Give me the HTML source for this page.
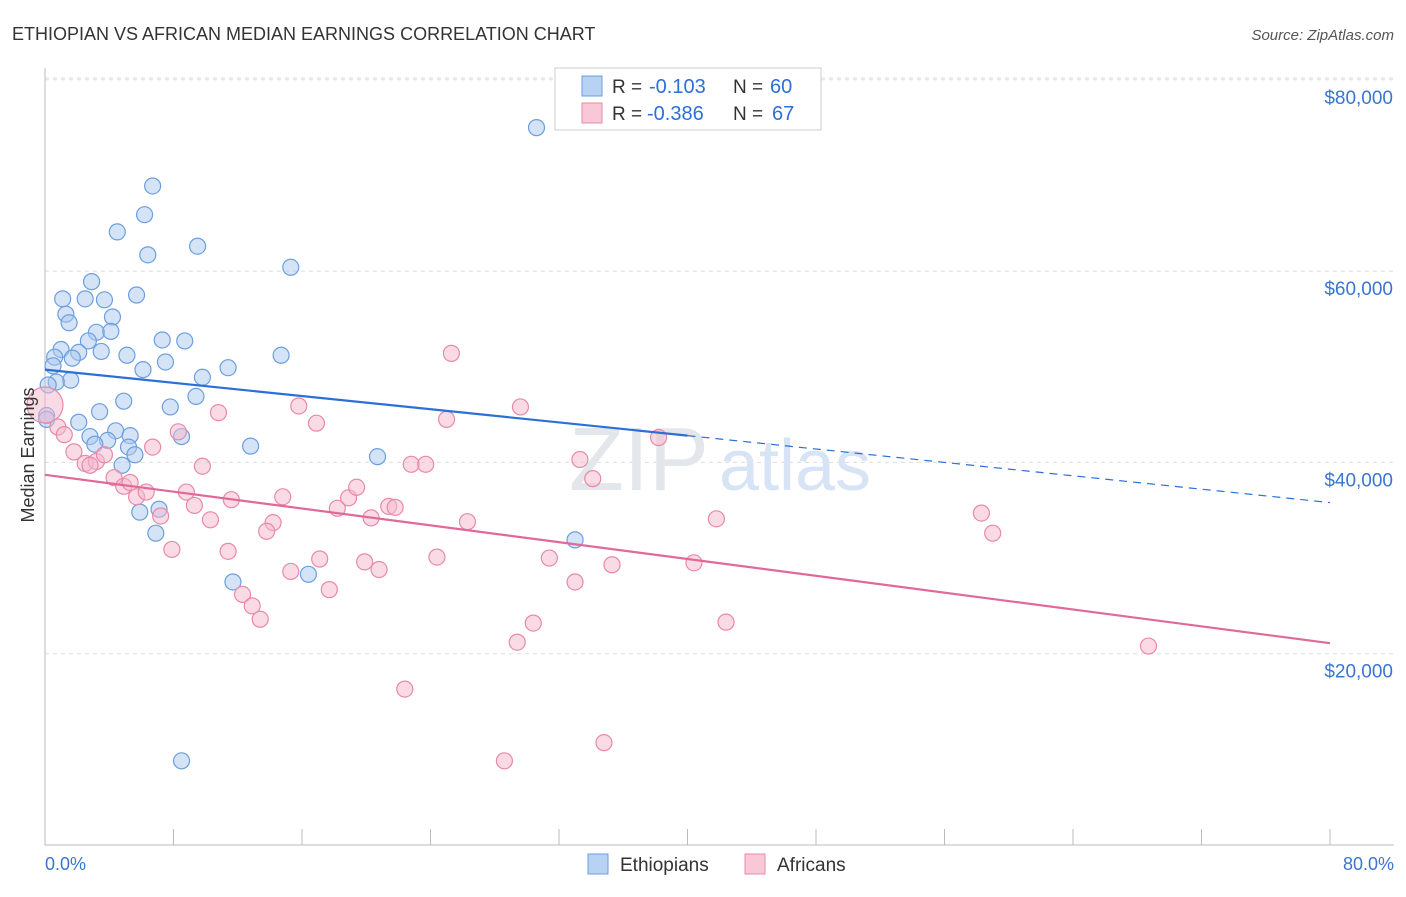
<!DOCTYPE html>
<html><head><meta charset="utf-8"><style>
body{margin:0;background:#fff;font-family:"Liberation Sans",sans-serif;}
svg text{font-family:"Liberation Sans",sans-serif;}
</style></head><body>
<svg width="1406" height="892" viewBox="0 0 1406 892">
<text x="12" y="40" font-size="18" fill="#333">ETHIOPIAN VS AFRICAN MEDIAN EARNINGS CORRELATION CHART</text>
<text x="1394" y="40" font-size="15" fill="#555" font-style="italic" text-anchor="end">Source: ZipAtlas.com</text>
<g id="grid"></g>
<g id="axes"></g>
<text x="720" y="490" font-size="90" fill="#e3e6ea" text-anchor="middle" font-family="Liberation Serif">ZIP<tspan fill="#d6e4f5" font-family="Liberation Sans" font-size="72" dx="10">atlas</tspan></text>
<g id="marks"></g>
<g id="trends"></g>
<text x="34" y="455" font-size="18" fill="#333" text-anchor="middle" transform="rotate(-90 34 455)">Median Earnings</text>
<text x="45" y="870" font-size="18" fill="#3a75d0">0.0%</text>
<text x="1394" y="870" font-size="18" fill="#3a75d0" text-anchor="end">80.0%</text>
<g>
<rect x="555" y="68" width="266" height="62" fill="#fff" stroke="#ccc"/>
<rect x="582" y="76" width="20" height="20" fill="#b8d2f4" stroke="#6c9fe0"/>
<rect x="582" y="103" width="20" height="20" fill="#f9c8d7" stroke="#e889a8"/>
<text x="612" y="93" font-size="19" fill="#333">R =</text>
<text x="649" y="93" font-size="20" fill="#2c6fd6">-0.103</text>
<text x="733" y="93" font-size="19" fill="#333">N =</text>
<text x="770" y="93" font-size="20" fill="#2c6fd6">60</text>
<text x="612" y="120" font-size="19" fill="#333">R =</text>
<text x="647" y="120" font-size="20" fill="#2c6fd6">-0.386</text>
<text x="733" y="120" font-size="19" fill="#333">N =</text>
<text x="772" y="120" font-size="20" fill="#2c6fd6">67</text>
</g>
<g>
<rect x="588" y="854" width="20" height="20" fill="#b8d2f4" stroke="#6c9fe0"/>
<text x="620" y="871" font-size="19" fill="#333">Ethiopians</text>
<rect x="745" y="854" width="20" height="20" fill="#f9c8d7" stroke="#e889a8"/>
<text x="777" y="871" font-size="19" fill="#333">Africans</text>
</g>
</svg>
<script>
const yTicks=[20000,40000,60000,80000];
const yTickLabels=["$20,000","$40,000","$60,000","$80,000"];
const xTicks=[0,8,16,24,32,40,48,56,64,72,80];
const blueX=[30.6,6.7,6.2,4.5,9.5,6.4,15.3,2.9,5.7,1.1,2.5,3.7,1.3,4.2,1.5,3.2,4.1,2.7,7.3,8.7,1.0,2.1,3.5,5.1,14.7,0.6,1.7,7.5,0.5,6.1,11.4,9.8,1.6,0.7,0.2,9.4,4.9,7.8,3.4,2.1,0.1,4.4,5.3,8.5,2.8,3.9,3.1,5.2,12.8,5.6,20.7,4.8,7.1,5.9,6.9,33.0,11.7,16.4,8.5,0.1];
const blueY=[75000,68900,65900,64100,62600,61700,60400,58900,57500,57100,57100,57000,55500,55200,54600,53600,53700,52700,52800,52700,51800,51500,51600,51200,51200,51000,50900,50500,50100,49700,49900,48900,48600,48400,48100,46900,46400,45800,45300,44200,44900,43300,42800,42700,42700,42300,41900,41600,41700,40800,40600,39700,35100,34800,32600,31900,27500,28300,8800,44500];
const pinkX=[0,0.8,1.2,1.8,2.5,3.2,3.7,2.8,6.7,8.3,10.8,4.3,4.9,5.3,5.7,6.3,7.2,8.8,9.3,9.8,10.3,11.6,11.4,7.9,14.2,13.8,14.8,15.8,16.9,15.3,17.1,17.7,18.2,18.9,19.4,19.9,20.3,20.8,21.4,21.8,22.8,23.7,12.3,12.9,13.4,22.4,24.4,25.0,25.3,26.3,28.6,29.4,30.4,29.6,31.4,33.0,33.3,34.1,34.8,35.3,38.2,40.4,41.8,42.4,58.3,59.0,68.7];
const pinkY=[46000,43700,42900,41100,39900,40100,40800,39700,41600,43200,45200,38400,37500,37900,36400,36900,34400,36900,35500,39600,34000,36100,30700,30900,33700,32800,36400,45900,44100,28600,29900,26700,35200,36300,37400,29600,34200,28800,35400,35300,39800,39800,26200,25000,23600,16300,30100,44500,51400,33800,8800,21200,23200,45800,30000,27500,40300,38300,10700,29300,42600,29500,34100,23300,34700,32600,20800];
const trendX=[0,40,80];
const blueTrend=[49700,42800,35800];
const pinkTrend=[38700,21100];
const NS="http://www.w3.org/2000/svg";
const X=v=>45+v/80*1285, Y=v=>845-v/20000*191.3;
function mk(t,a,p){const e=document.createElementNS(NS,t);for(const k in a)e.setAttribute(k,a[k]);p.appendChild(e);return e;}
const gridG=document.getElementById('grid'),axesG=document.getElementById('axes'),marksG=document.getElementById('marks'),trendsG=document.getElementById('trends');
yTicks.forEach((v,i)=>{
 const l=mk('line',{x1:45,x2:1394,y1:Y(v),y2:Y(v),stroke:'#ddd','stroke-dasharray':'4,4'},gridG);
 
 
 const t=mk('text',{x:1393,y:Y(v)+24,'font-size':19,fill:'#3a75d0','text-anchor':'end'},gridG);
 t.textContent=yTickLabels[i];
 
 
});
const topGrid=mk('line',{x1:45,x2:1394,y1:78,y2:78,stroke:'#ddd','stroke-dasharray':'4,4'},gridG);


mk('line',{x1:45,x2:45,y1:68,y2:845,stroke:'#bbb'},axesG);
mk('line',{x1:45,x2:1394,y1:845,y2:845,stroke:'#bbb'},axesG);
xTicks.forEach(v=>{
 const t=mk('line',{x1:X(v),x2:X(v),y1:829,y2:845,stroke:'#bbb'},axesG);
 
 
});
function pts(xs,ys,fill,stroke,name){
 xs.forEach((x,i)=>{
  const c=mk('circle',{cx:X(x),cy:Y(ys[i]),r:(x===0&&name==='african-point')?18:8,fill:fill,'fill-opacity':0.5,stroke:stroke,'stroke-width':1.2},marksG);
  
  
 });
}
pts(blueX,blueY,'#a9c8ee','#6c9fe0','ethiopian-point');
pts(pinkX,pinkY,'#f5b8cb','#e889a8','african-point');
let tl=mk('line',{x1:X(trendX[0]),y1:Y(blueTrend[0]),x2:X(trendX[1]),y2:Y(blueTrend[1]),stroke:'#2c6fd6','stroke-width':2.2},trendsG);


tl=mk('line',{x1:X(trendX[1]),y1:Y(blueTrend[1]),x2:X(trendX[2]),y2:Y(blueTrend[2]),stroke:'#2c6fd6','stroke-width':1.2,'stroke-dasharray':'8,6'},trendsG);


tl=mk('line',{x1:X(trendX[0]),y1:Y(pinkTrend[0]),x2:X(trendX[2]),y2:Y(pinkTrend[1]),stroke:'#e0699a','stroke-width':2.2},trendsG);


</script>
</body></html>
